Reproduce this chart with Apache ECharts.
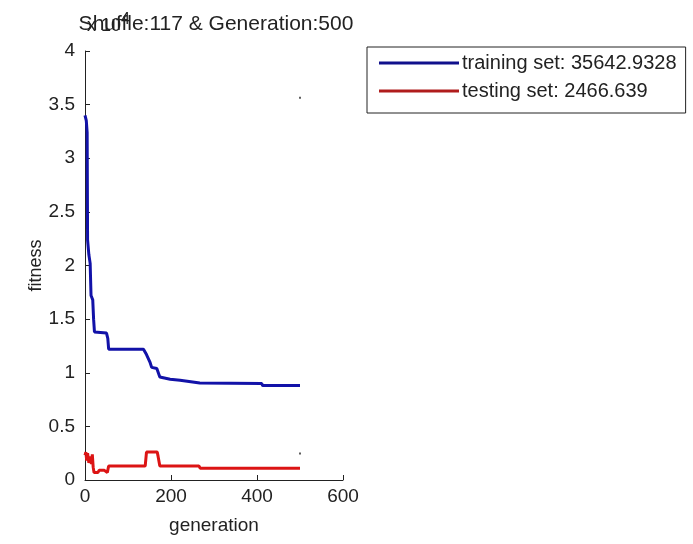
<!DOCTYPE html>
<html>
<head>
<meta charset="utf-8">
<script src="https://cdn.jsdelivr.net/npm/echarts@6/dist/echarts.min.js"></script>
<style>
  html, body { margin: 0; padding: 0; background: #fff; }
  #chart { width: 693px; height: 544px; }
</style>
</head>
<body>
<div id="chart"></div>
<script>
// generation / fitness pairs (step-like curves)
const trainingSet = [
  [0, 34000], [3, 33500], [5, 32400], [6, 22400], [9, 21000], [12, 20200],
  [14, 17200], [18, 16800], [20, 15000], [22, 13800], [50, 13700], [53, 13200],
  [55, 12200], [136, 12200], [143, 11700], [151, 11000], [155, 10500], [167, 10400],
  [174, 9600], [198, 9400], [221, 9300], [267, 9050], [411, 9000], [413, 8800],
  [500, 8800]
]
const testingSet = [
  [0, 2300], [2, 2600], [4, 1800], [6, 2500], [9, 1600], [12, 2200], [15, 1500],
  [17, 2400], [19, 1200], [21, 700], [30, 700], [33, 900], [45, 900], [52, 700],
  [55, 1300], [140, 1300], [143, 2600], [168, 2600], [170, 2200], [174, 1300],
  [265, 1300], [268, 1100], [500, 1100]
]
// the two final values, drawn as single dots at the last generation
const finalPoints = [[500, 35643], [500, 2467]]
const seriesNames = ['training set: 35642.9328', 'testing set: 2466.639']
const titleText = 'Shuffle:117 & Generation:500'

const font = 'Liberation Sans'
const chart = echarts.init(document.getElementById('chart'))
const option = {
  animation: false,
  backgroundColor: '#fff',
  textStyle: { fontFamily: font },
  title: {
    text: titleText,
    left: 211,
    top: 9,
    textAlign: 'center',
    textStyle: { fontSize: 21, fontWeight: 'normal', color: '#222', fontFamily: font }
  },
  legend: {
    orient: 'vertical',
    left: 367,
    top: 47,
    padding: [6, 9, 12, 12],
    itemGap: 8,
    itemWidth: 80,
    itemHeight: 3,
    backgroundColor: '#fff',
    borderColor: '#222',
    borderWidth: 1,
    borderRadius: 0,
    textStyle: { fontSize: 20, color: '#222', fontFamily: font, padding: [0, 0, 0, -2] },
    data: [
      { name: seriesNames[0], icon: 'rect', itemStyle: { color: '#10108c' } },
      { name: seriesNames[1], icon: 'rect', itemStyle: { color: '#b01c1c' } }
    ]
  },
  graphic: [{
    type: 'text',
    left: 87,
    top: 12,
    style: {
      text: 'x 10{s|4}',
      fill: '#222',
      font: '18px ' + font,
      rich: { s: { fontSize: 16, verticalAlign: 'top', padding: [0, 0, 12, 0] } }
    }
  }],
  grid: { left: 85, top: 51, right: 350, bottom: 64 },
  xAxis: {
    type: 'value',
    min: 0,
    max: 600,
    interval: 200,
    name: 'generation',
    nameLocation: 'middle',
    nameGap: 36,
    nameTextStyle: { fontSize: 19, color: '#222' },
    axisLine: { lineStyle: { color: '#222', width: 1 } },
    axisTick: { inside: true, length: 5, lineStyle: { color: '#222' } },
    axisLabel: { fontSize: 19, color: '#222', margin: 7 },
    splitLine: { show: false }
  },
  yAxis: {
    type: 'value',
    min: 0,
    max: 40000,
    interval: 5000,
    name: 'fitness',
    nameLocation: 'middle',
    nameGap: 37,
    nameTextStyle: { fontSize: 18, color: '#222' },
    axisLine: { show: true, lineStyle: { color: '#222', width: 1 } },
    axisTick: { show: true, inside: true, length: 5, lineStyle: { color: '#222' } },
    axisLabel: {
      fontSize: 19, color: '#222', margin: 10,
      formatter: v => String(v / 10000)
    },
    splitLine: { show: false }
  },
  series: [
    {
      name: seriesNames[0],
      type: 'line',
      data: trainingSet,
      showSymbol: false,
      color: '#1212a8',
      lineStyle: { width: 3, color: '#1212a8' }
    },
    {
      name: seriesNames[1],
      type: 'line',
      data: testingSet,
      showSymbol: false,
      color: '#dc1414',
      lineStyle: { width: 3, color: '#dc1414' }
    },
    {
      type: 'scatter',
      data: finalPoints,
      symbol: 'rect',
      symbolSize: 2,
      itemStyle: { color: '#333' }
    }
  ]
}
chart.setOption(option)
</script>
</body>
</html>
